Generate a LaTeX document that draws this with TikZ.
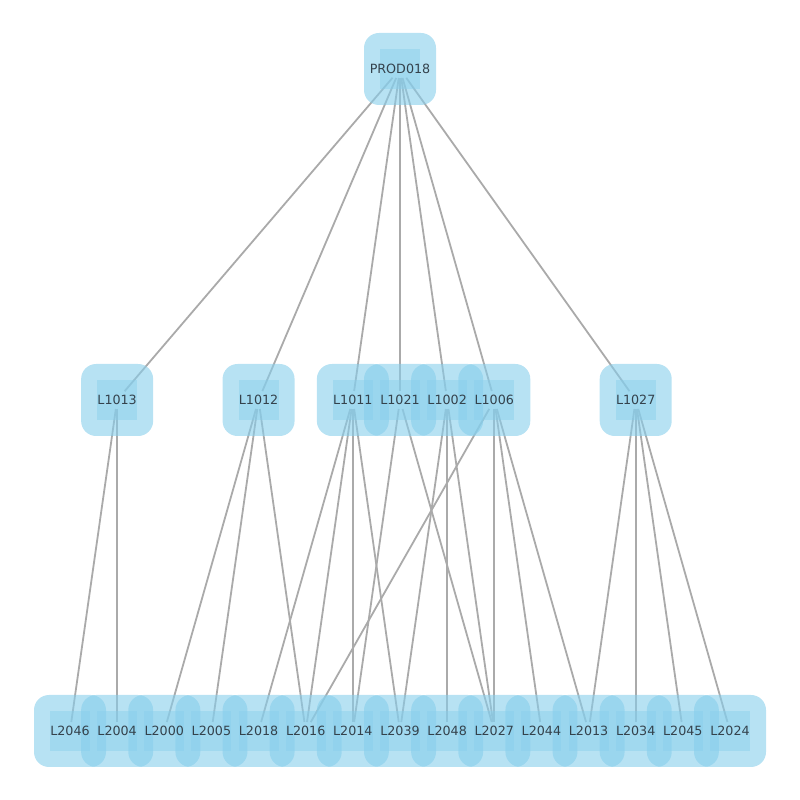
\documentclass[tikz,border=0pt]{standalone}
\usepackage{fontspec}
\setmainfont{DejaVu Sans}
\usepackage{xcolor}
\usepackage{tikz}
\usetikzlibrary{positioning}
\definecolor{boxblue}{HTML}{87CEEB}
\definecolor{linkgray}{HTML}{AAAAAA}
\definecolor{labelgray}{HTML}{34424C}
\tikzstyle{item} = [inner sep=3pt, text=labelgray, font=\fontsize{12.7}{15}\selectfont]
\tikzstyle{link} = [line width=1.8pt, draw=linkgray, shorten >=1pt, shorten <=1pt]
\tikzstyle{halo} = [fill=boxblue, fill opacity=0.6, rounded corners=15pt]
\tikzstyle{core} = [fill=boxblue, fill opacity=0.45]
\pgfdeclarelayer{edges}
\pgfdeclarelayer{boxes}
\pgfsetlayers{edges,boxes,main}

\begin{document}
\begin{tikzpicture}[node distance=331pt]
                                \useasboundingbox (0,0) rectangle (800pt,800pt);
                                \node (PROD018) [item] at (400pt,731pt) {PROD018};
                                \node (L1013) [item, below of = PROD018, xshift=-282.86pt] {L1013};
                                \node (L1012) [item, below of = PROD018, xshift=-141.43pt] {L1012};
                                \node (L1011) [item, below of = PROD018, xshift=-47.14pt] {L1011};
                                \node (L1021) [item, below of = PROD018] {L1021};
                                \node (L1002) [item, below of = PROD018, xshift=47.14pt] {L1002};
                                \node (L1006) [item, below of = PROD018, xshift=94.29pt] {L1006};
                                \node (L1027) [item, below of = PROD018, xshift=235.71pt] {L1027};
                                \node (L2046) [item, below of = L1021, xshift=-330pt] {L2046};
                                \node (L2004) [item, below of = L1021, xshift=-282.86pt] {L2004};
                                \node (L2000) [item, below of = L1021, xshift=-235.71pt] {L2000};
                                \node (L2005) [item, below of = L1021, xshift=-188.57pt] {L2005};
                                \node (L2018) [item, below of = L1021, xshift=-141.43pt] {L2018};
                                \node (L2016) [item, below of = L1021, xshift=-94.29pt] {L2016};
                                \node (L2014) [item, below of = L1021, xshift=-47.14pt] {L2014};
                                \node (L2039) [item, below of = L1021] {L2039};
                                \node (L2048) [item, below of = L1021, xshift=47.14pt] {L2048};
                                \node (L2027) [item, below of = L1021, xshift=94.29pt] {L2027};
                                \node (L2044) [item, below of = L1021, xshift=141.43pt] {L2044};
                                \node (L2013) [item, below of = L1021, xshift=188.57pt] {L2013};
                                \node (L2034) [item, below of = L1021, xshift=235.71pt] {L2034};
                                \node (L2045) [item, below of = L1021, xshift=282.86pt] {L2045};
                                \node (L2024) [item, below of = L1021, xshift=330pt] {L2024};
                                % boxes behind the labels
                                \begin{pgfonlayer}{boxes}
                                \foreach \n in {PROD018, L1013, L1012, L1011, L1021, L1002, L1006, L1027, L2046, L2004, L2000, L2005, L2018, L2016, L2014, L2039, L2048, L2027, L2044, L2013, L2034, L2045, L2024}
                                {
                                \fill [halo] ([shift={(-36pt,-36pt)}]\n.center) rectangle ([shift={(36pt,36pt)}]\n.center);
                                \fill [core] ([shift={(-20pt,-20pt)}]\n.center) rectangle ([shift={(20pt,20pt)}]\n.center);
                                }
                                \end{pgfonlayer}
                                % links
                                \begin{pgfonlayer}{edges}
                                \draw [link] (PROD018) -- (L1013);
                                \draw [link] (PROD018) -- (L1012);
                                \draw [link] (PROD018) -- (L1011);
                                \draw [link] (PROD018) -- (L1021);
                                \draw [link] (PROD018) -- (L1002);
                                \draw [link] (PROD018) -- (L1006);
                                \draw [link] (PROD018) -- (L1027);
                                \draw [link] (L1013) -- (L2046);
                                \draw [link] (L1013) -- (L2004);
                                \draw [link] (L1012) -- (L2000);
                                \draw [link] (L1012) -- (L2005);
                                \draw [link] (L1012) -- (L2016);
                                \draw [link] (L1011) -- (L2018);
                                \draw [link] (L1011) -- (L2016);
                                \draw [link] (L1011) -- (L2014);
                                \draw [link] (L1011) -- (L2039);
                                \draw [link] (L1021) -- (L2014);
                                \draw [link] (L1021) -- (L2027);
                                \draw [link] (L1002) -- (L2039);
                                \draw [link] (L1002) -- (L2048);
                                \draw [link] (L1002) -- (L2027);
                                \draw [link] (L1006) -- (L2016);
                                \draw [link] (L1006) -- (L2027);
                                \draw [link] (L1006) -- (L2044);
                                \draw [link] (L1006) -- (L2013);
                                \draw [link] (L1027) -- (L2013);
                                \draw [link] (L1027) -- (L2034);
                                \draw [link] (L1027) -- (L2045);
                                \draw [link] (L1027) -- (L2024);
                                \end{pgfonlayer}
                            \end{tikzpicture}
\end{document}
